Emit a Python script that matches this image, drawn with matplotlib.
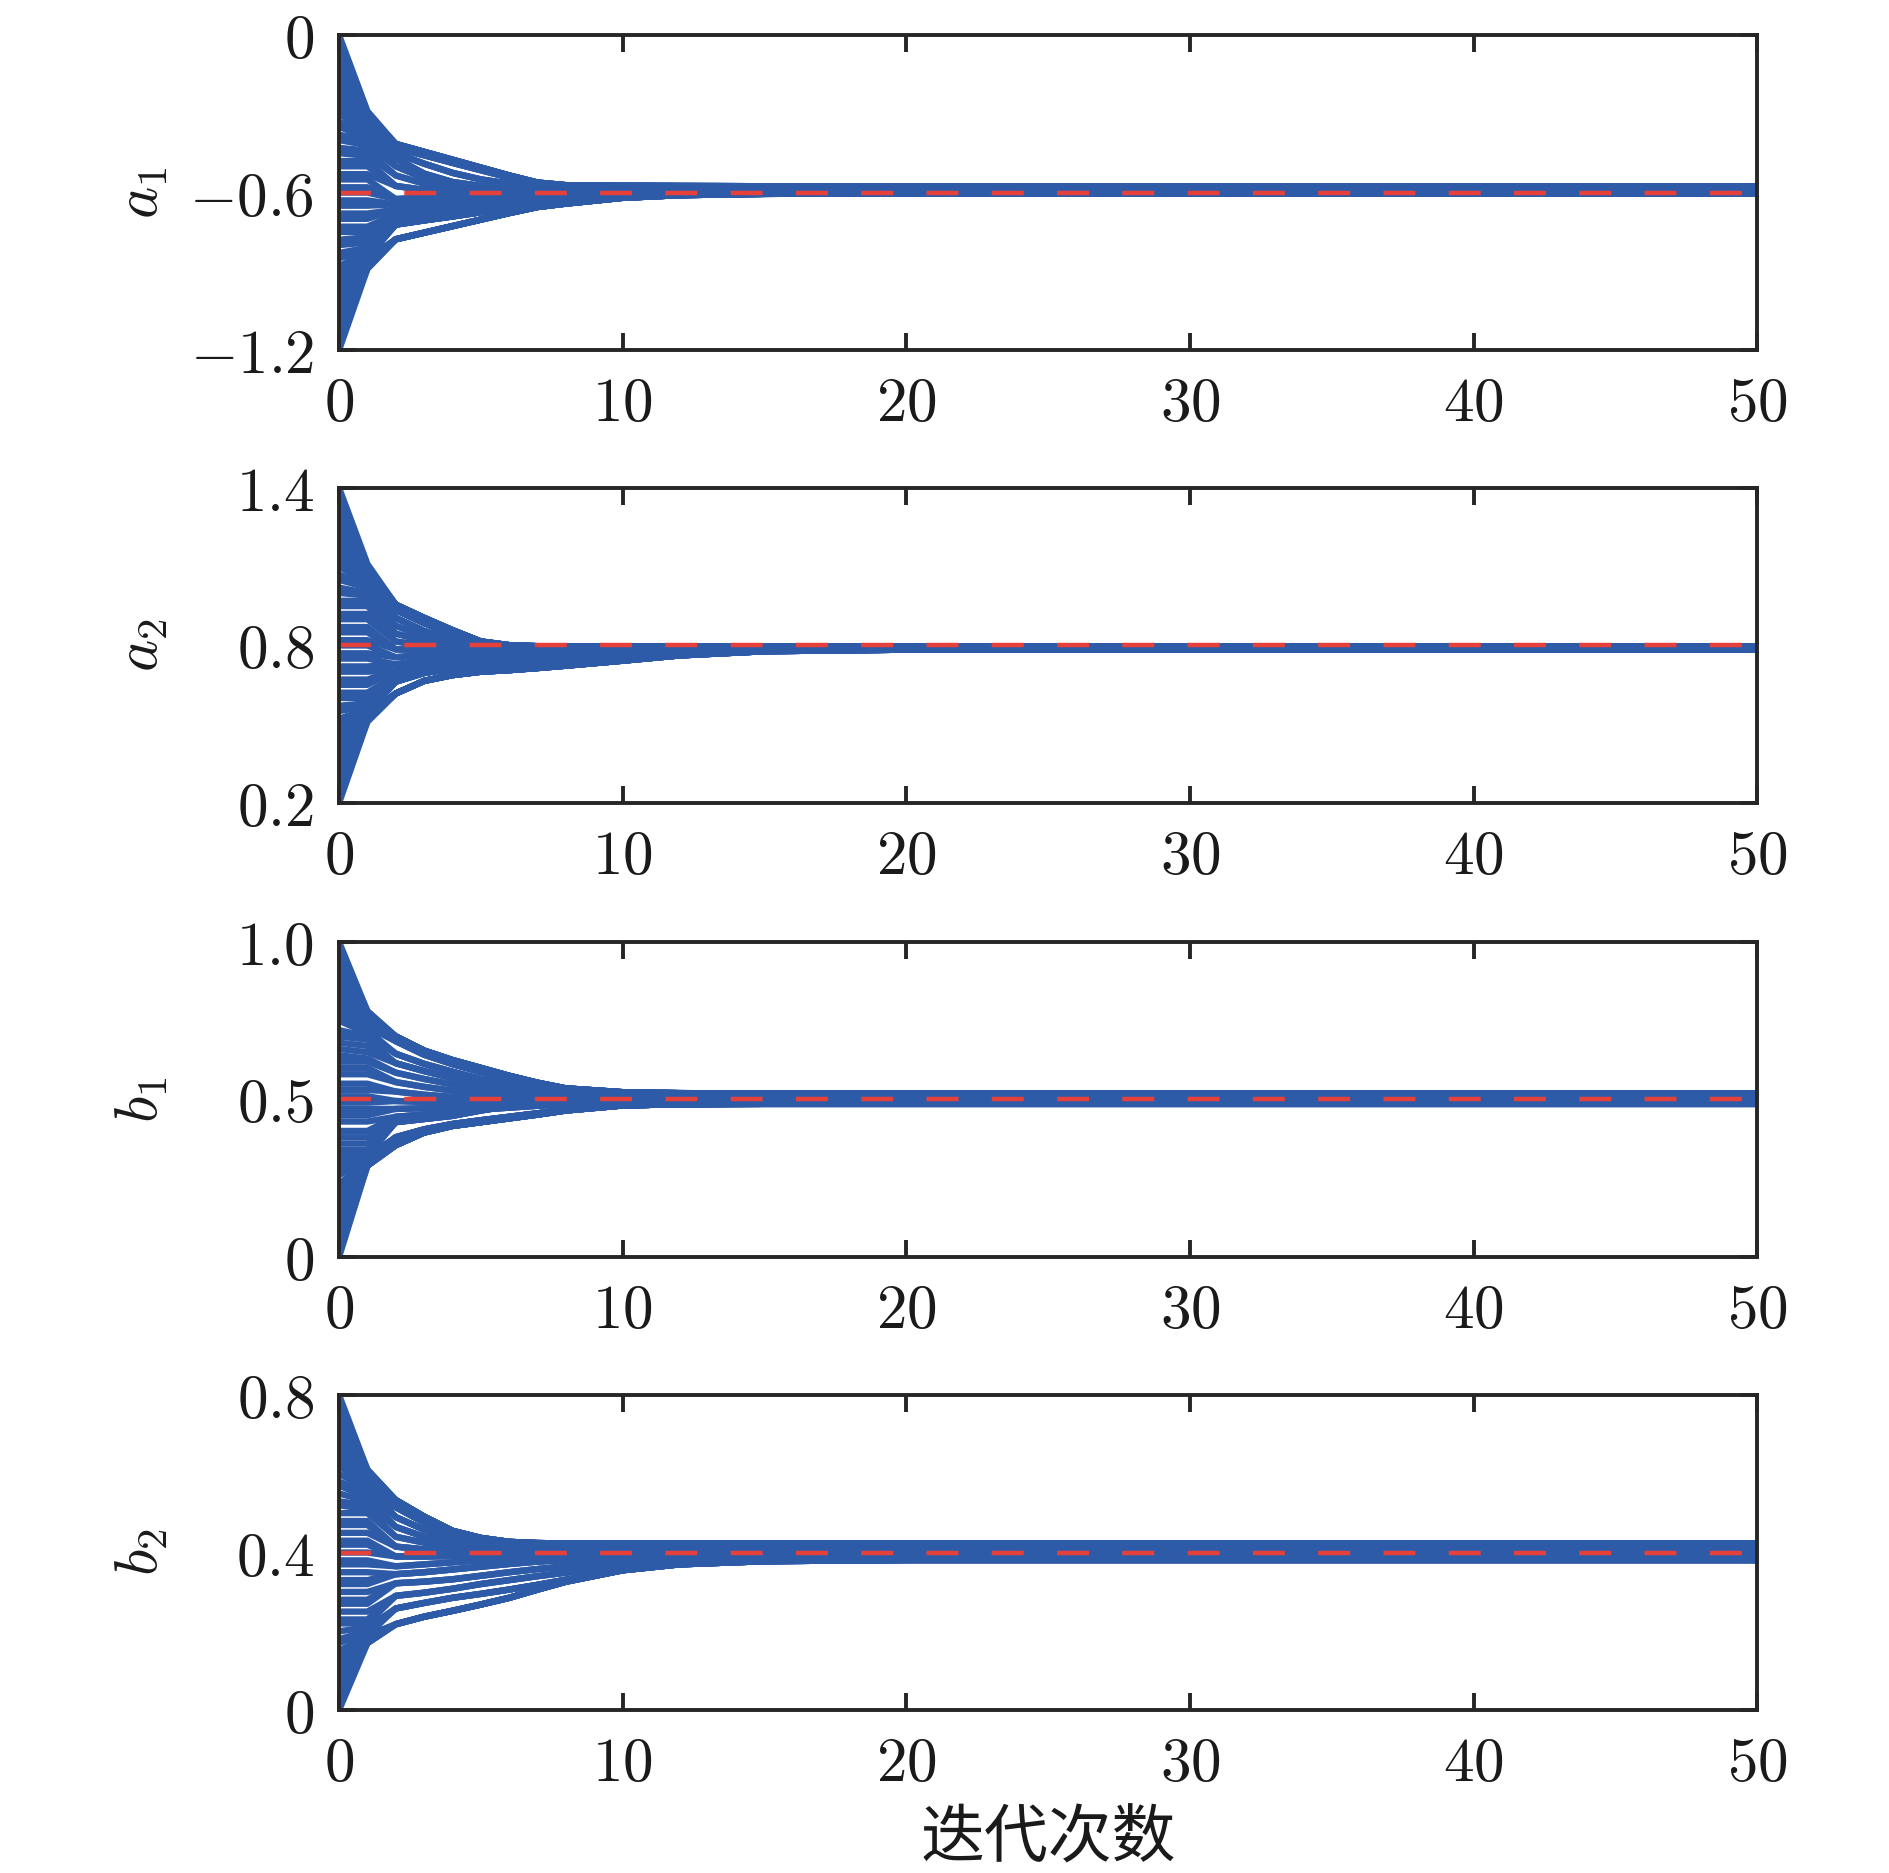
import matplotlib
matplotlib.use("Agg")
import matplotlib.pyplot as plt

plt.rcParams['mathtext.fontset'] = 'cm'
plt.rcParams['lines.scale_dashes'] = False

blue = '#2E5BA8'
red = '#E6403A'
dark = '#262626'

# iterations after the first two steps, shared by all bundles
knots = [2, 3, 4, 5, 6, 7, 8, 10, 12, 15, 20, 50]
xticks = [0, 10, 20, 30, 40, 50]

names = [r'$a_1$', r'$a_2$', r'$b_1$', r'$b_2$']
true_vals = [-0.6, 0.8, 0.5, 0.4]
ylims = [(-1.2, 0), (0.2, 1.4), (0, 1.0), (0, 0.8)]
yticks = [[-1.2, -0.6, 0], [0.2, 0.8, 1.4], [0, 0.5, 1.0], [0, 0.4, 0.8]]
ytick_labels = [[r'$-1.2$', r'$-0.6$', r'$0$'],
                [r'$0.2$', r'$0.8$', r'$1.4$'],
                [r'$0$', r'$0.5$', r'$1.0$'],
                [r'$0$', r'$0.4$', r'$0.8$']]

# ---- a1 ----
a1_start = [0.00, -0.02, -0.05, -0.08, -0.10, -0.13, -0.15, -0.18, -0.20, -0.23, -0.25, -0.28,
            -0.30, -0.33, -0.35, -0.38, -0.40, -0.43, -0.45, -0.48, -0.50, -0.53, -0.55, -0.58,
            -0.60, -0.63, -0.65, -0.68, -0.70, -0.73, -0.75, -0.78, -0.80, -0.83, -0.85, -0.88,
            -0.90, -0.93, -0.95, -0.98, -1.00, -1.03, -1.05, -1.08, -1.10, -1.13, -1.16, -1.20]
a1_step1 = [-0.29, -0.30, -0.30, -0.31, -0.31, -0.32, -0.32, -0.33, -0.33, -0.34, -0.35, -0.36,
            -0.37, -0.38, -0.39, -0.40, -0.42, -0.44, -0.46, -0.48, -0.50, -0.53, -0.55, -0.58,
            -0.60, -0.63, -0.65, -0.68, -0.70, -0.73, -0.75, -0.77, -0.79, -0.81, -0.82, -0.83,
            -0.84, -0.84, -0.85, -0.85, -0.86, -0.86, -0.87, -0.87, -0.88, -0.88, -0.89, -0.89]
a1_sizes = [6, 3, 3, 3, 2, 2, 3, 3, 2, 2, 2, 2, 6, 9]
a1_paths = [
    [-0.415, -0.445, -0.475, -0.505, -0.535, -0.562, -0.572, -0.574, -0.575, -0.576, -0.576, -0.576],
    [-0.430, -0.458, -0.487, -0.515, -0.543, -0.566, -0.577, -0.580, -0.581, -0.581, -0.581, -0.581],
    [-0.450, -0.490, -0.525, -0.550, -0.566, -0.576, -0.582, -0.585, -0.586, -0.586, -0.586, -0.586],
    [-0.470, -0.528, -0.560, -0.575, -0.583, -0.587, -0.589, -0.590, -0.590, -0.590, -0.590, -0.590],
    [-0.500, -0.545, -0.568, -0.580, -0.588, -0.591, -0.592, -0.593, -0.593, -0.593, -0.593, -0.593],
    [-0.535, -0.566, -0.584, -0.591, -0.595, -0.596, -0.597, -0.597, -0.597, -0.597, -0.596, -0.596],
    [-0.575, -0.590, -0.600, -0.601, -0.601, -0.601, -0.601, -0.601, -0.601, -0.600, -0.599, -0.599],
    [-0.625, -0.620, -0.616, -0.612, -0.608, -0.606, -0.604, -0.603, -0.602, -0.601, -0.600, -0.600],
    [-0.645, -0.638, -0.632, -0.624, -0.617, -0.612, -0.608, -0.604, -0.603, -0.602, -0.601, -0.601],
    [-0.665, -0.656, -0.648, -0.637, -0.627, -0.619, -0.613, -0.606, -0.604, -0.603, -0.602, -0.602],
    [-0.682, -0.673, -0.664, -0.651, -0.638, -0.628, -0.620, -0.610, -0.605, -0.603, -0.602, -0.602],
    [-0.700, -0.690, -0.678, -0.663, -0.648, -0.637, -0.627, -0.614, -0.607, -0.604, -0.603, -0.603],
    [-0.722, -0.706, -0.691, -0.675, -0.660, -0.646, -0.634, -0.618, -0.608, -0.604, -0.603, -0.603],
    [-0.778, -0.753, -0.728, -0.703, -0.678, -0.655, -0.642, -0.620, -0.610, -0.605, -0.603, -0.603],
]

# ---- a2 ----
a2_start = [1.40, 1.37, 1.35, 1.32, 1.30, 1.27, 1.25, 1.22, 1.20, 1.17, 1.15, 1.12,
            1.10, 1.07, 1.05, 1.02, 1.00, 0.97, 0.95, 0.92, 0.90, 0.87, 0.85, 0.82,
            0.80, 0.77, 0.75, 0.72, 0.70, 0.67, 0.65, 0.62, 0.60, 0.57, 0.55, 0.52,
            0.50, 0.47, 0.45, 0.42, 0.40, 0.37, 0.35, 0.32, 0.30, 0.27, 0.24, 0.20]
a2_step1 = [1.11, 1.10, 1.10, 1.09, 1.09, 1.08, 1.08, 1.07, 1.06, 1.06, 1.05, 1.05,
            1.04, 1.03, 1.02, 1.00, 0.99, 0.97, 0.95, 0.92, 0.90, 0.87, 0.85, 0.82,
            0.80, 0.77, 0.75, 0.72, 0.70, 0.67, 0.65, 0.62, 0.60, 0.58, 0.57, 0.56,
            0.55, 0.55, 0.54, 0.54, 0.53, 0.53, 0.53, 0.52, 0.52, 0.52, 0.51, 0.51]
a2_sizes = [8, 4, 3, 2, 2, 2, 3, 2, 2, 3, 3, 5, 9]
a2_paths = [
    [0.955, 0.905, 0.858, 0.815, 0.801, 0.797, 0.796, 0.796, 0.796, 0.796, 0.796, 0.796],
    [0.935, 0.885, 0.842, 0.808, 0.797, 0.794, 0.793, 0.793, 0.793, 0.793, 0.793, 0.793],
    [0.905, 0.855, 0.822, 0.803, 0.795, 0.792, 0.791, 0.791, 0.791, 0.791, 0.791, 0.791],
    [0.875, 0.835, 0.812, 0.798, 0.793, 0.791, 0.790, 0.790, 0.790, 0.790, 0.790, 0.790],
    [0.845, 0.818, 0.802, 0.794, 0.791, 0.790, 0.789, 0.789, 0.789, 0.789, 0.789, 0.789],
    [0.815, 0.800, 0.793, 0.790, 0.789, 0.788, 0.788, 0.788, 0.788, 0.788, 0.788, 0.788],
    [0.785, 0.784, 0.784, 0.785, 0.786, 0.787, 0.787, 0.787, 0.787, 0.787, 0.787, 0.787],
    [0.755, 0.765, 0.772, 0.776, 0.779, 0.781, 0.783, 0.785, 0.786, 0.787, 0.787, 0.787],
    [0.728, 0.745, 0.757, 0.765, 0.770, 0.774, 0.777, 0.781, 0.784, 0.786, 0.786, 0.786],
    [0.705, 0.727, 0.742, 0.752, 0.759, 0.765, 0.770, 0.777, 0.782, 0.785, 0.786, 0.786],
    [0.685, 0.712, 0.728, 0.738, 0.746, 0.754, 0.761, 0.772, 0.779, 0.784, 0.786, 0.786],
    [0.662, 0.695, 0.712, 0.720, 0.728, 0.737, 0.746, 0.762, 0.774, 0.782, 0.785, 0.786],
    [0.617, 0.665, 0.687, 0.700, 0.706, 0.714, 0.723, 0.742, 0.762, 0.778, 0.784, 0.786],
]

# ---- b1 ----
b1_start = [1.00, 0.98, 0.96, 0.94, 0.92, 0.89, 0.87, 0.85, 0.83, 0.81, 0.79, 0.77,
            0.75, 0.72, 0.70, 0.68, 0.66, 0.64, 0.62, 0.60, 0.58, 0.55, 0.53, 0.51,
            0.49, 0.47, 0.45, 0.43, 0.40, 0.38, 0.36, 0.34, 0.32, 0.30, 0.28, 0.26,
            0.23, 0.21, 0.19, 0.17, 0.15, 0.13, 0.11, 0.09, 0.06, 0.04, 0.02, 0.00]
b1_step1 = [0.78, 0.78, 0.77, 0.77, 0.76, 0.76, 0.75, 0.75, 0.74, 0.74, 0.73, 0.72,
            0.71, 0.70, 0.69, 0.67, 0.65, 0.63, 0.62, 0.60, 0.58, 0.55, 0.53, 0.51,
            0.49, 0.47, 0.45, 0.43, 0.40, 0.38, 0.36, 0.34, 0.33, 0.32, 0.32, 0.31,
            0.31, 0.31, 0.30, 0.30, 0.30, 0.30, 0.29, 0.29, 0.29, 0.29, 0.29, 0.29]
b1_sizes = [8, 3, 3, 3, 2, 2, 2, 2, 2, 3, 4, 5, 9]
b1_paths = [
    [0.700, 0.655, 0.625, 0.600, 0.575, 0.553, 0.535, 0.523, 0.520, 0.519, 0.519, 0.519],
    [0.685, 0.642, 0.612, 0.587, 0.563, 0.543, 0.528, 0.519, 0.517, 0.516, 0.516, 0.516],
    [0.645, 0.613, 0.588, 0.565, 0.545, 0.527, 0.519, 0.514, 0.513, 0.512, 0.512, 0.512],
    [0.615, 0.590, 0.568, 0.550, 0.535, 0.522, 0.515, 0.510, 0.509, 0.509, 0.509, 0.509],
    [0.585, 0.565, 0.548, 0.535, 0.524, 0.515, 0.510, 0.507, 0.506, 0.506, 0.506, 0.506],
    [0.555, 0.540, 0.528, 0.518, 0.512, 0.507, 0.504, 0.503, 0.503, 0.503, 0.503, 0.503],
    [0.525, 0.515, 0.508, 0.503, 0.501, 0.500, 0.500, 0.500, 0.500, 0.500, 0.500, 0.500],
    [0.495, 0.492, 0.492, 0.493, 0.494, 0.495, 0.496, 0.497, 0.497, 0.497, 0.497, 0.497],
    [0.470, 0.472, 0.476, 0.480, 0.484, 0.487, 0.490, 0.493, 0.494, 0.494, 0.494, 0.494],
    [0.445, 0.452, 0.460, 0.468, 0.474, 0.480, 0.485, 0.490, 0.491, 0.491, 0.491, 0.491],
    [0.428, 0.438, 0.448, 0.465, 0.479, 0.485, 0.488, 0.489, 0.489, 0.489, 0.489, 0.489],
    [0.380, 0.405, 0.422, 0.434, 0.445, 0.456, 0.468, 0.481, 0.485, 0.487, 0.487, 0.487],
    [0.355, 0.395, 0.416, 0.428, 0.440, 0.452, 0.465, 0.481, 0.485, 0.486, 0.486, 0.486],
]

# ---- b2 ----
b2_start = [0.80, 0.78, 0.77, 0.75, 0.73, 0.72, 0.70, 0.68, 0.67, 0.65, 0.63, 0.62,
            0.60, 0.58, 0.57, 0.55, 0.53, 0.52, 0.50, 0.48, 0.47, 0.45, 0.43, 0.42,
            0.40, 0.38, 0.37, 0.35, 0.33, 0.32, 0.30, 0.28, 0.27, 0.25, 0.23, 0.22,
            0.20, 0.18, 0.17, 0.15, 0.13, 0.12, 0.10, 0.08, 0.07, 0.05, 0.03, 0.00]
b2_step1 = [0.61, 0.61, 0.61, 0.60, 0.60, 0.60, 0.59, 0.59, 0.58, 0.58, 0.57, 0.57,
            0.56, 0.55, 0.54, 0.53, 0.52, 0.51, 0.50, 0.48, 0.47, 0.45, 0.43, 0.42,
            0.40, 0.38, 0.37, 0.35, 0.33, 0.32, 0.30, 0.28, 0.27, 0.25, 0.23, 0.22,
            0.21, 0.20, 0.20, 0.19, 0.19, 0.18, 0.18, 0.18, 0.18, 0.17, 0.17, 0.17]
b2_sizes = [8, 3, 3, 3, 2, 3, 3, 2, 3, 3, 3, 4, 8]
b2_paths = [
    [0.533, 0.491, 0.455, 0.437, 0.427, 0.424, 0.423, 0.423, 0.423, 0.423, 0.423, 0.423],
    [0.515, 0.476, 0.446, 0.431, 0.423, 0.420, 0.419, 0.419, 0.419, 0.419, 0.419, 0.419],
    [0.490, 0.458, 0.435, 0.422, 0.417, 0.415, 0.414, 0.414, 0.414, 0.414, 0.414, 0.414],
    [0.465, 0.440, 0.425, 0.416, 0.412, 0.410, 0.409, 0.409, 0.409, 0.409, 0.409, 0.409],
    [0.440, 0.425, 0.414, 0.408, 0.405, 0.404, 0.404, 0.404, 0.404, 0.404, 0.404, 0.404],
    [0.415, 0.408, 0.403, 0.400, 0.399, 0.399, 0.399, 0.399, 0.399, 0.399, 0.399, 0.399],
    [0.390, 0.390, 0.391, 0.392, 0.393, 0.394, 0.394, 0.394, 0.394, 0.394, 0.394, 0.394],
    [0.365, 0.370, 0.375, 0.380, 0.384, 0.387, 0.389, 0.390, 0.390, 0.390, 0.390, 0.390],
    [0.345, 0.350, 0.357, 0.364, 0.371, 0.377, 0.381, 0.386, 0.387, 0.387, 0.387, 0.387],
    [0.322, 0.326, 0.332, 0.341, 0.350, 0.358, 0.365, 0.377, 0.383, 0.385, 0.385, 0.385],
    [0.290, 0.298, 0.308, 0.320, 0.330, 0.340, 0.349, 0.367, 0.378, 0.383, 0.384, 0.384],
    [0.258, 0.272, 0.285, 0.295, 0.306, 0.318, 0.331, 0.357, 0.372, 0.380, 0.382, 0.382],
    [0.218, 0.237, 0.252, 0.268, 0.285, 0.306, 0.326, 0.355, 0.370, 0.378, 0.381, 0.381],
]

starts = [a1_start, a2_start, b1_start, b2_start]
steps1 = [a1_step1, a2_step1, b1_step1, b2_step1]
sizes = [a1_sizes, a2_sizes, b1_sizes, b2_sizes]
paths = [a1_paths, a2_paths, b1_paths, b2_paths]

fig = plt.figure(figsize=(9.45, 9.365), dpi=200)
bottoms = [0.8131, 0.5713, 0.3289, 0.0870]

for k in range(4):
    ax = fig.add_axes([0.1794, bottoms[k], 0.7503, 0.1682])

    run = 0
    for g in range(len(sizes[k])):
        for j in range(sizes[k][g]):
            ax.plot([0, 1] + knots, [starts[k][run], steps1[k][run]] + paths[k][g],
                    color=blue, lw=2.3)
            run += 1

    ax.plot([0, knots[-1]], [true_vals[k], true_vals[k]], color=red, lw=1.6,
            dashes=(11.5, 12))

    ax.set_xlim(0, 50)
    ax.set_ylim(ylims[k])
    ax.set_xticks(xticks)
    ax.set_xticklabels(['$%d$' % v for v in xticks])
    ax.set_yticks(yticks[k])
    ax.set_yticklabels(ytick_labels[k])
    ax.tick_params(direction='in', top=True, right=True, length=6, width=1.4,
                   color=dark, labelcolor='#1a1a1a', labelsize=22, pad=9)
    for sp in ax.spines.values():
        sp.set_linewidth(1.4)
        sp.set_color(dark)
    ax.set_ylabel(names[k], fontsize=22, color='#1a1a1a')
    ax.yaxis.set_label_coords(-0.119, 0.5)

fig.text(0.5545, 0.0182, '迭代次数', family=['Noto Sans CJK SC', 'DejaVu Sans'],
         fontsize=23, ha='center', va='center', color='#1a1a1a')

fig.savefig('out.png', dpi=200)
